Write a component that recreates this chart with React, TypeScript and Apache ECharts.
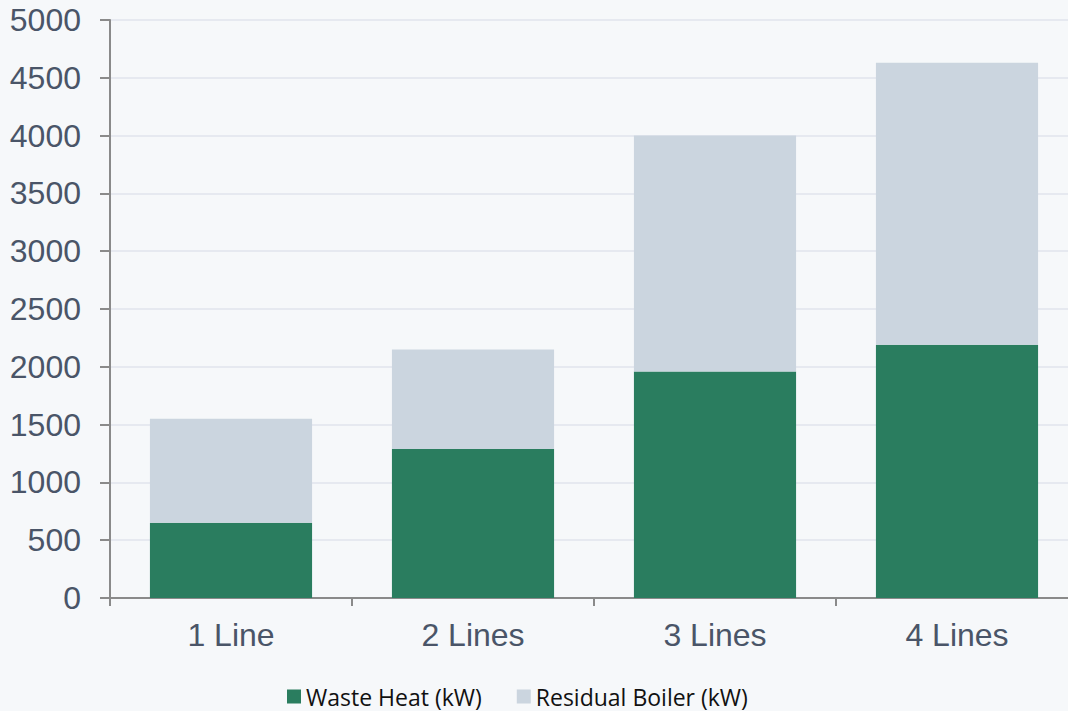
import React, { useEffect, useRef } from "react";
import * as echarts from "echarts";

const categories = ["1 Line", "2 Lines", "3 Lines", "4 Lines"];
const wasteHeat = [650, 1290, 1960, 2190];
const residualBoiler = [900, 860, 2040, 2440];
const seriesNames = ["Waste Heat (kW)", "Residual Boiler (kW)"];

export default function App() {
  const ref = useRef<HTMLDivElement>(null);
  useEffect(() => {
    if (!ref.current) return;
    const chart = echarts.init(ref.current, null, { renderer: "svg" });
    chart.setOption({
      animation: false,
      backgroundColor: "#F6F8FA",
      grid: { left: 110, top: 20, bottom: 113, right: 0, containLabel: false },
      legend: {
        left: 282,
        top: 680,
        itemWidth: 14,
        itemHeight: 14,
        itemGap: 35,
        icon: "rect",
        textStyle: { fontFamily: "Open Sans", fontSize: 23, color: "#111" },
        data: seriesNames,
      },
      xAxis: {
        type: "category",
        data: categories,
        axisLine: { lineStyle: { color: "#8A8A8A", width: 2 } },
        axisTick: { show: true, length: 8, lineStyle: { color: "#8A8A8A", width: 2 } },
        axisLabel: { fontFamily: "Liberation Sans", fontSize: 32, color: "#4A5568", margin: 21 },
      },
      yAxis: {
        type: "value",
        min: 0,
        max: 5000,
        interval: 500,
        axisLine: { show: true, lineStyle: { color: "#8A8A8A", width: 2 } },
        axisTick: { show: true, length: 10, lineStyle: { color: "#8A8A8A", width: 2 } },
        splitLine: { lineStyle: { color: "#E6E9F0", width: 2 } },
        axisLabel: {
          fontFamily: "Liberation Sans",
          fontSize: 32,
          color: "#4A5568",
          margin: 29,
          formatter: (v: number) => String(v),
        },
      },
      series: [
        {
          name: seriesNames[0],
          type: "bar",
          stack: "total",
          data: wasteHeat,
          barCategoryGap: "33%",
          itemStyle: { color: "#2A7D5F" },
        },
        {
          name: seriesNames[1],
          type: "bar",
          stack: "total",
          data: residualBoiler,
          barCategoryGap: "33%",
          itemStyle: { color: "#CBD5DF" },
        },
      ],
    });
    return () => chart.dispose();
  }, []);
  return (
    <div
      ref={ref}
      style={{ position: "fixed", left: 0, top: 0, width: 1078, height: 711 }}
    />
  );
}
